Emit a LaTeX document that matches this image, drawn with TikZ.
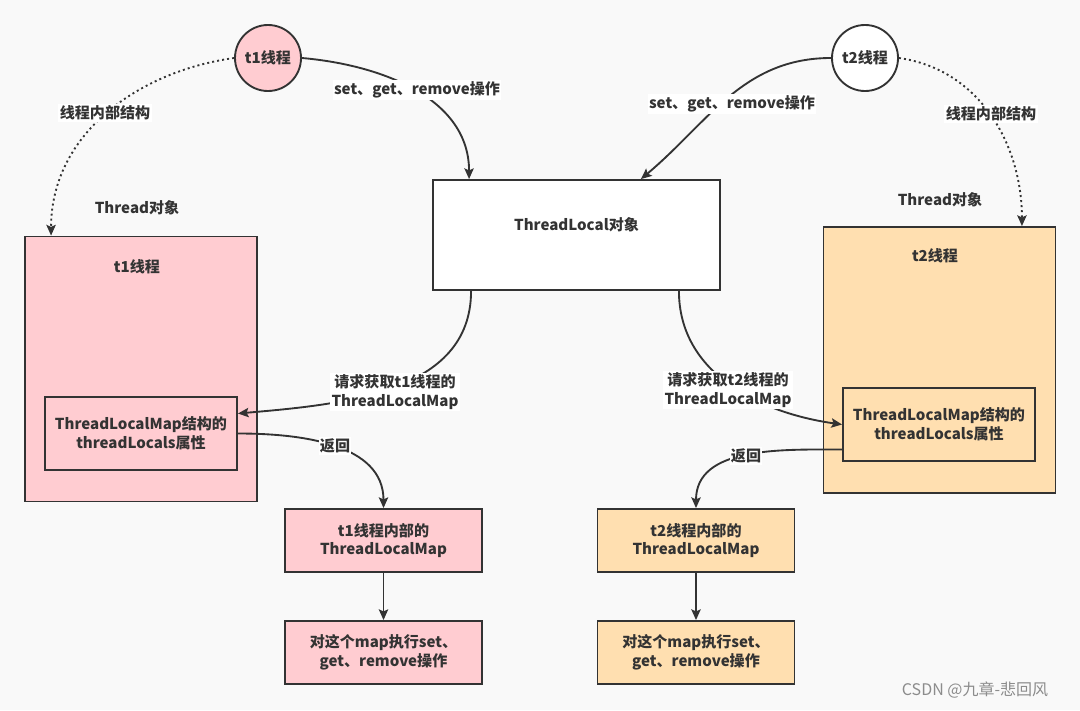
\documentclass[tikz,border=0pt]{standalone}
\usepackage{fontspec}
\setmainfont{Noto Sans CJK SC}
\usetikzlibrary{arrows.meta,calc}
\definecolor{bg}{HTML}{F9F9F9}
\definecolor{pinkf}{HTML}{FFCCD1}
\definecolor{orangef}{HTML}{FFDFB0}
\definecolor{ln}{HTML}{333333}
\begin{document}
\begin{tikzpicture}[x=0.75pt,y=0.75pt,
  every node/.style={font=\fontsize{11.3pt}{14pt}\selectfont\bfseries, text=ln},
  box/.style={draw=ln, line width=1.4pt, rectangle, align=center, inner sep=0pt},
  circ/.style={draw=ln, line width=1.4pt, circle, minimum size=49.5pt, inner sep=0pt},
  conn/.style={draw=ln, line width=1.4pt, -{Stealth[length=8pt,width=7pt,inset=1.5pt]}},
  dots/.style={conn, dash pattern=on 1.5pt off 2.3pt},
  lbl/.style={fill=white, inner sep=1pt, align=center},
]
\fill[bg] (0,0) rectangle (1080,-710);
\useasboundingbox (0,0) rectangle (1080,-710);

% circles
\node[circ, fill=pinkf] (t1c) at (268,-58) {t1线程};
\node[circ, fill=white] (t2c) at (865,-58) {t2线程};

% central box
\node[box, fill=white, minimum width=215.25pt, minimum height=82.5pt] (tl) at (576.5,-235) {};
\node (tlt) at (576.5,-225) {ThreadLocal对象};

% thread boxes
\node[box, fill=pinkf, minimum width=174pt, minimum height=198.75pt] (th1) at (141,-369) {};
\node (th1t) at (137,-267) {t1线程};
\node[box, fill=pinkf, minimum width=144pt, minimum height=54.75pt] (in1) at (141,-433.5) {ThreadLocalMap结构的\\threadLocals属性};

\node[box, fill=orangef, minimum width=174pt, minimum height=199.5pt] (th2) at (939.5,-360) {};
\node (th2t) at (935,-256) {t2线程};
\node[box, fill=orangef, minimum width=144pt, minimum height=54.75pt] (in2) at (939,-424.5) {ThreadLocalMap结构的\\threadLocals属性};

\node (thl1) at (137,-208) {Thread对象};
\node (thl2) at (940,-200) {Thread对象};

% lower boxes
\node[box, fill=pinkf, minimum width=147.75pt, minimum height=47.25pt] (m1) at (383.5,-540.5) {t1线程内部的\\ThreadLocalMap};
\node[box, fill=pinkf, minimum width=147.75pt, minimum height=47.25pt] (o1) at (383.5,-652.5) {对这个map执行set、\\get、remove操作};
\node[box, fill=orangef, minimum width=147.75pt, minimum height=47.25pt] (m2) at (696,-540.5) {t2线程内部的\\ThreadLocalMap};
\node[box, fill=orangef, minimum width=147.75pt, minimum height=47.25pt] (o2) at (696,-652.5) {对这个map执行set、\\get、remove操作};

% connectors
\draw[dots] (t1c.west) to[out=188,in=90] ($(th1.north west)+(27,0)$);
\draw[conn] (t1c.east) to[out=-5,in=90] ($(tl.north west)+(37,0)$);
\draw[conn] (t2c.west) to[out=180,in=40] ($(tl.north east)+(-80,0)$);
\draw[dots] (t2c.east) to[out=-8,in=90] ($(th2.north east)+(-34.5,0)$);
\draw[conn] ($(tl.south west)+(39,0)$) to[out=-90,in=5] ($(in1.east)+(0,20)$);
\draw[conn] ($(tl.south east)+(-42,0)$) to[out=-90,in=172] (in2.west);
\draw[conn] (in1.east) to[out=0,in=90] (m1.north);
\draw[conn] ($(in2.west)+(0,-25)$) to[out=180,in=90] (m2.north);
\draw[conn] (m1.south) -- (o1.north);
\draw[conn] (m2.south) -- (o2.north);

% labels
\node[lbl] (l1) at (105,-113) {线程内部结构};
\node[lbl] (l2) at (417,-90) {set、get、remove操作};
\node[lbl] (l3) at (732,-104) {set、get、remove操作};
\node[lbl] (l4) at (991,-114) {线程内部结构};
\node[lbl] (l5) at (395,-392) {请求获取t1线程的\\ThreadLocalMap};
\node[lbl] (l6) at (728,-390) {请求获取t2线程的\\ThreadLocalMap};
\node[lbl] (l7) at (335,-446) {返回};
\node[lbl] (l8) at (746,-456) {返回};

\node[font=\fontsize{12pt}{14pt}\selectfont, text=black!45] (wm) at (975,-690) {CSDN @九章-悲回风};
\end{tikzpicture}
\end{document}
